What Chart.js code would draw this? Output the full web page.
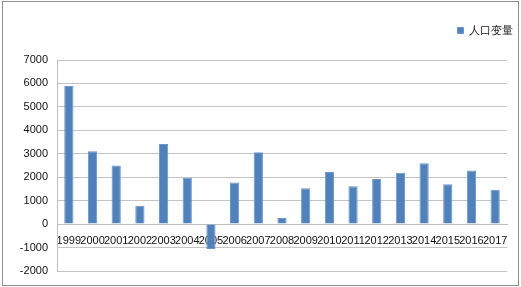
<!DOCTYPE html>
<html>
<head>
<meta charset="utf-8">
<script src="https://cdn.jsdelivr.net/npm/chart.js@4/dist/chart.umd.min.js"></script>
<style>
  body { margin: 0; background: #fff; }
  #wrap { position: relative; width: 521px; height: 287px; }
  #frame { position: absolute; left: 2px; top: 1px; width: 515px; height: 283px; border: 1px solid #8f8f8f; pointer-events: none; }
</style>
</head>
<body>
<div id="wrap">
  <canvas id="myChart" width="521" height="287"></canvas>
  <div id="frame"></div>
</div>
<script>
const years = ['1999', '2000', '2001', '2002', '2003', '2004', '2005', '2006', '2007', '2008',
    '2009', '2010', '2011', '2012', '2013', '2014', '2015', '2016', '2017'];
const popChange = [5890, 3110, 2500, 780, 3420, 1980, -1060, 1770, 3070, 260,
    1530, 2220, 1610, 1920, 2190, 2600, 1700, 2290, 1470];
const seriesName = '人口变量';

const ctx = document.getElementById('myChart').getContext('2d');

// push the plot area down a bit below the legend
const legendGap = {
    id: 'legendGap',
    beforeInit(chart) {
        const fit = chart.legend.fit;
        chart.legend.fit = function () {
            fit.bind(chart.legend)();
            this.height += 14;
        };
    }
};

var graphData = {
    type: 'bar',
    data: {
        labels: years,
        datasets: [{
            label: seriesName,
            data: popChange,
            backgroundColor: '#4f81bd',
            borderColor: '#6a96cc',
            borderWidth: 1,
            categoryPercentage: 1,
            barPercentage: 0.39
        }]
    },
    options: {
        responsive: false,
        animation: false,
        layout: { padding: { left: 10, right: 0, top: 17, bottom: 16 } },
        plugins: {
            legend: {
                align: 'end',
                labels: {
                    boxWidth: 6,
                    boxHeight: 6,
                    padding: 8,
                    color: '#222',
                    font: { size: 11, family: 'Liberation Sans, Arial, sans-serif' }
                }
            },
            tooltip: { enabled: false }
        },
        scales: {
            x: {
                position: { y: 0 },
                grid: { display: false, drawTicks: false },
                border: { color: '#bfbfbf' },
                ticks: {
                    autoSkip: false,
                    maxRotation: 0,
                    minRotation: 0,
                    padding: 10,
                    color: '#111',
                    font: { size: 11, family: 'Liberation Sans, Arial, sans-serif' }
                }
            },
            y: {
                min: -2000,
                max: 7000,
                grid: { color: '#c4c4c4', drawTicks: false },
                border: { color: '#bfbfbf' },
                afterFit: function (scale) { scale.width = 47; },
                ticks: {
                    stepSize: 1000,
                    padding: 9,
                    color: '#111',
                    font: { size: 11, family: 'Liberation Sans, Arial, sans-serif' },
                    callback: function (v) { return String(v); }
                }
            },
            // empty right axis, only keeps the plot clear of the frame
            yr: {
                position: 'right',
                grid: { display: false },
                border: { display: false },
                ticks: { display: false },
                afterFit: function (scale) { scale.width = 14; }
            }
        }
    },
    plugins: [legendGap]
};

const myChart = new Chart(ctx, graphData);
</script>
</body>
</html>
